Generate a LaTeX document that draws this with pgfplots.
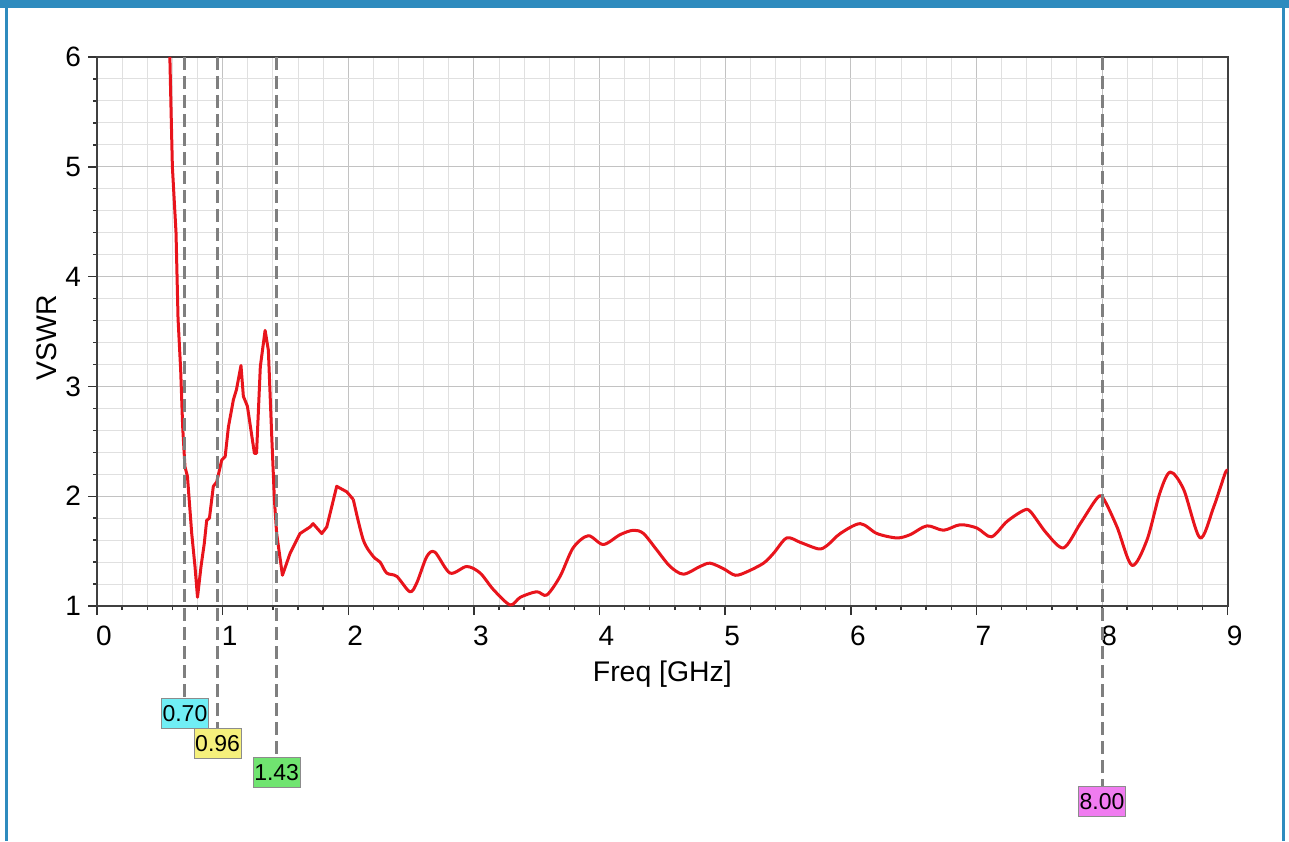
\documentclass[border=0pt]{standalone}
\usepackage{fontspec}
\setmainfont{Liberation Sans}
\usepackage{pgfplots}
\usepackage{pgfplotstable}
\pgfplotsset{compat=1.18}
\definecolor{framecol}{HTML}{2E8BBE}
\definecolor{curvered}{HTML}{E8141C}
\definecolor{markgray}{HTML}{7F7F7F}
\definecolor{boxcyan}{HTML}{70EEF5}
\definecolor{boxyellow}{HTML}{F5F07C}
\definecolor{boxgreen}{HTML}{70E470}
\definecolor{boxmag}{HTML}{F07CF0}

\pgfplotstableread{
f v
0.58 6.0
0.585 5.74
0.60 5.0
0.629 4.40
0.645 3.62
0.666 3.15
0.682 2.63
0.70 2.27
0.72 2.18
0.754 1.66
0.78 1.36
0.80 1.08
0.828 1.36
0.854 1.57
0.873 1.78
0.895 1.80
0.926 2.09
0.953 2.13
0.993 2.33
1.02 2.36
1.046 2.63
1.086 2.88
1.11 2.97
1.146 3.19
1.165 2.91
1.197 2.82
1.253 2.39
1.27 2.39
1.30 3.18
1.338 3.51
1.364 3.33
1.39 2.57
1.412 1.97
1.43 1.66
1.476 1.28
1.537 1.48
1.616 1.66
1.696 1.72
1.72 1.75
1.789 1.66
1.829 1.72
1.908 2.09
1.988 2.04
2.04 1.97
}\lowtable

\pgfplotstableread{
f v
2.04 1.97
2.12 1.60
2.2 1.45
2.253 1.40
2.306 1.30
2.386 1.27
2.49 1.13
2.545 1.21
2.625 1.45
2.69 1.49
2.81 1.30
2.943 1.36
3.05 1.30
3.155 1.15
3.288 1.01
3.37 1.08
3.50 1.13
3.58 1.10
3.686 1.27
3.79 1.53
3.91 1.64
4.03 1.56
4.164 1.65
4.27 1.69
4.35 1.66
4.456 1.51
4.562 1.36
4.668 1.29
4.80 1.36
4.88 1.39
4.986 1.34
5.08 1.28
5.17 1.31
5.305 1.39
5.385 1.48
5.49 1.62
5.597 1.58
5.743 1.52
5.81 1.55
5.916 1.66
6.075 1.75
6.208 1.66
6.367 1.62
6.473 1.65
6.606 1.73
6.738 1.69
6.87 1.74
7.004 1.71
7.12 1.63
7.243 1.77
7.375 1.87
7.43 1.86
7.56 1.66
7.694 1.53
7.826 1.75
7.959 1.98
8.01 1.98
8.119 1.72
8.238 1.37
8.357 1.60
8.46 2.03
8.543 2.22
8.65 2.06
8.78 1.62
8.888 1.90
8.98 2.21
9.0 2.23
}\hightable

\begin{document}
\begin{tikzpicture}
\useasboundingbox (0,0) rectangle (644.5pt,420.5pt);
\fill[framecol] (0,416.5pt) rectangle (644.5pt,420.5pt);
\fill[framecol] (2.5pt,0) rectangle (4pt,420.5pt);
\fill[framecol] (641pt,0) rectangle (642.5pt,420.5pt);
\begin{axis}[
  at={(48.5pt,117.5pt)}, anchor=south west,
  width=565.35pt, height=274.5pt, scale only axis,
  xmin=0, xmax=9, ymin=1, ymax=6,
  xtick={0,1,...,9}, ytick={1,2,...,6},
  minor x tick num=4, minor y tick num=4,
  grid=both,
  major grid style={draw=black!24, line width=0.5pt},
  minor grid style={draw=black!12, line width=0.5pt},
  axis line style={draw=black!75, line width=0.9pt},
  tick align=outside,
  major tick length=4.5pt, minor tick length=2pt,
  tick style={draw=black!80, line width=0.7pt},
  xtick pos=bottom, ytick pos=left,
  /pgf/number format/assume math mode=true,
  tick label style={font=\fontsize{14}{16}\selectfont},
  xticklabel style={xshift=3.5pt, yshift=-2pt},
  label style={font=\fontsize{14.2}{17}\selectfont},
  xlabel={Freq [GHz]},
  ylabel={VSWR},
  xlabel style={at={(axis description cs:0.5,-0.1379)}, anchor=base},
  ylabel style={at={(axis description cs:-0.0448,0.489)}, anchor=center},
  clip=false,
]
\begin{scope}
\clip (axis cs:0,1) rectangle (axis cs:9,6);
\addplot[curvered, line width=1.5pt, line join=round] table[x=f,y=v] {\lowtable};
\addplot[curvered, line width=1.5pt, line join=round, smooth, tension=0.5] table[x=f,y=v] {\hightable};
\end{scope}
\draw[markgray, line width=1.5pt, dash pattern=on 6.5pt off 3pt] (axis cs:0.70,6) -- (axis cs:0.70,0.159);
\draw[markgray, line width=1.5pt, dash pattern=on 6.5pt off 3pt] (axis cs:0.96,6) -- (axis cs:0.96,-0.108);
\draw[markgray, line width=1.5pt, dash pattern=on 6.5pt off 3pt] (axis cs:1.43,6) -- (axis cs:1.43,-0.372);
\draw[markgray, line width=1.5pt, dash pattern=on 6.5pt off 3pt] (axis cs:8.00,6) -- (axis cs:8.00,-0.637);
\tikzset{mbox/.style={draw=black!45, line width=0.5pt, anchor=north, minimum width=23.5pt, minimum height=15pt, inner sep=0pt, font=\fontsize{11.5}{13}\selectfont}}
\node[mbox, fill=boxcyan] at (axis cs:0.70,0.159) {0.70};
\node[mbox, fill=boxyellow] at (axis cs:0.96,-0.108) {0.96};
\node[mbox, fill=boxgreen] at (axis cs:1.43,-0.372) {1.43};
\node[mbox, fill=boxmag] at (axis cs:8.00,-0.637) {8.00};
\end{axis}
\end{tikzpicture}
\end{document}
